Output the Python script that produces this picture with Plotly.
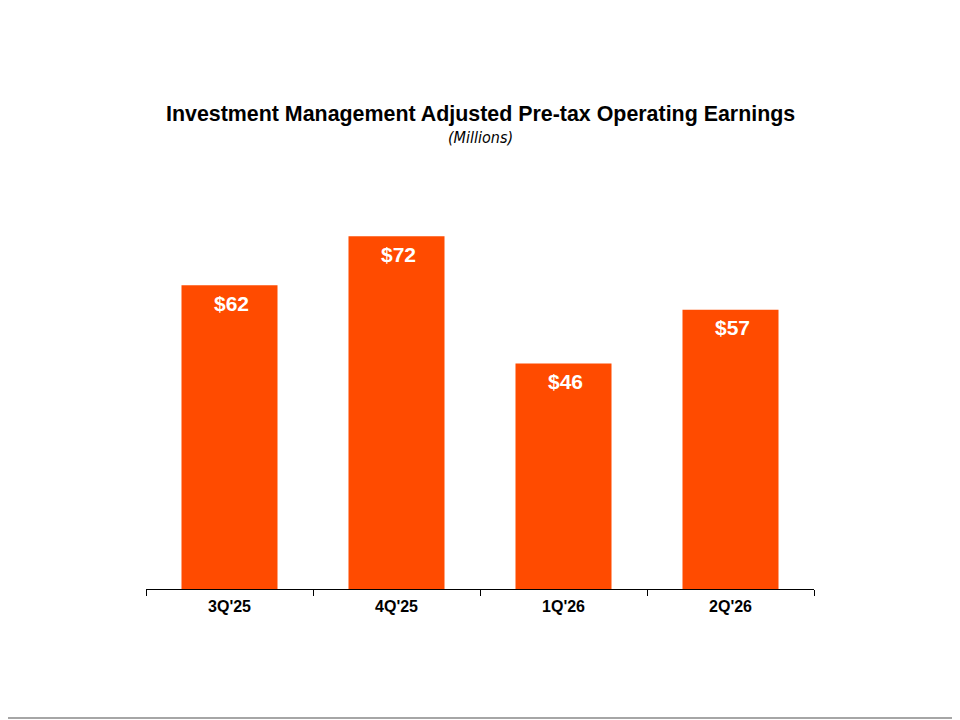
import plotly.graph_objects as go

categories = ["3Q'25", "4Q'25", "1Q'26", "2Q'26"]
values = [62, 72, 46, 57]
labels = ["$62", "$72", "$46", "$57"]

title_text = "Investment Management Adjusted Pre-tax Operating Earnings"
subtitle_text = "(Millions)"

BAR_COLOR = "#FF4B00"

# page offset (body margin) of 8px; target screen coords
OFF = 8
PLOT_L, PLOT_R, PLOT_T, PLOT_B = 146 - OFF, 814 - OFF, 180 - OFF, 589 - OFF
PW = PLOT_R - PLOT_L
PH = PLOT_B - PLOT_T

fig = go.Figure()
fig.add_trace(go.Bar(
    x=categories, y=values,
    marker=dict(color=BAR_COLOR, line=dict(width=0)),
    hoverinfo="skip",
))

for c, v, t in zip(categories, values, labels):
    fig.add_annotation(
        x=c, y=v, text=t, showarrow=False, yshift=-18, xshift=2, yanchor="middle",
        font=dict(family="Liberation Sans, Arial", size=21, color="white", weight="bold"),
    )

fig.add_annotation(
    xref="paper", yref="paper", x=0.5, y=(589 - 114) / PH, xanchor="center", yanchor="middle",
    text="<b>" + title_text + "</b>", showarrow=False,
    font=dict(family="Liberation Sans, Arial", size=21.4, color="black"),
)
fig.add_annotation(
    xref="paper", yref="paper", x=0.5, y=(589 - 137) / PH, xanchor="center", yanchor="middle",
    text="<i>" + subtitle_text + "</i>", showarrow=False,
    font=dict(family="DejaVu Sans Condensed, DejaVu Sans", size=16, color="black"),
)
fig.add_shape(
    type="line", xref="paper", yref="paper",
    x0=-PLOT_L / PW, x1=(960 - PLOT_L) / PW, y0=-(718 - 589) / PH, y1=-(718 - 589) / PH,
    line=dict(color="#A6A6A6", width=2),
)

fig.update_layout(
    width=960, height=720,
    margin=dict(l=PLOT_L, r=960 - PLOT_R, t=PLOT_T, b=720 - PLOT_B, pad=0),
    paper_bgcolor="white", plot_bgcolor="white",
    showlegend=False,
    bargap=0.425,
    xaxis=dict(
        showline=True, linecolor="black", linewidth=1,
        ticks="outside", tickson="boundaries", ticklen=6, tickcolor="black", tickwidth=1,
        ticklabelstandoff=3,
        tickfont=dict(family="Liberation Sans, Arial", size=16, color="black", weight="bold"),
        showgrid=False, zeroline=False, fixedrange=True,
    ),
    yaxis=dict(
        range=[0, PH / 4.9], visible=False, showgrid=False, zeroline=False, fixedrange=True,
    ),
)

fig.write_html("out.html")
